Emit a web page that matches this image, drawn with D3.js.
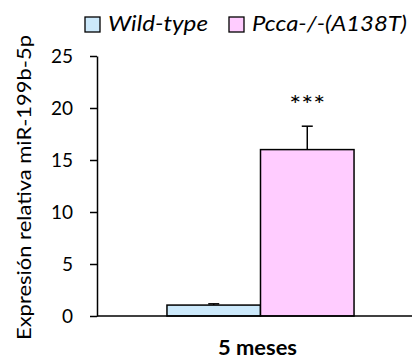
<!DOCTYPE html>
<html>
<head>
<meta charset="utf-8">
<script src="https://cdn.jsdelivr.net/npm/d3@7"></script>
<style>
  body { margin: 0; background: #fff; }
  text { font-family: Lato, "Open Sans", sans-serif; fill: #000; }
</style>
</head>
<body>
<svg id="chart"></svg>
<script>
const categories = ["5 meses"];
const series = ["Wild-type", "Pcca-/-(A138T)"];
const means = [[1.05, 16.0]];
const errors = [[0.12, 2.25]];
const yTicks = [0, 5, 10, 15, 20, 25];
const colors = ["#cce9fb", "#ffccff"];
const signif = ["", "***"];

const width = 412, height = 360;
const svg = d3.select("#chart").attr("width", width).attr("height", height);

const margin = { left: 97, right: 412, top: 56, bottom: 316 };

const y = d3.scaleLinear().domain([0, 25]).range([margin.bottom, margin.top]);
const x0 = d3.scaleBand().domain(categories).range([margin.left, 424]).paddingOuter(0.374);
const x1 = d3.scaleBand().domain(series).range([0, x0.bandwidth()]);

// y axis
const yAxis = svg.append("g")
  .attr("transform", `translate(${margin.left},0)`)
  .call(d3.axisLeft(y).tickValues(yTicks).tickSize(7).tickSizeOuter(0).tickPadding(17));
yAxis.select(".domain").attr("stroke", "#000").attr("stroke-width", 1.5);
yAxis.selectAll(".tick line").attr("stroke", "#000").attr("stroke-width", 1.5);
yAxis.selectAll(".tick text").style("font-size", "19px").style("font-family", "Lato, sans-serif").attr("fill", "#000");

// bars
const groups = svg.append("g").selectAll("g")
  .data(categories)
  .join("g")
  .attr("transform", d => `translate(${x0(d)},0)`);

groups.each(function(cat, ci) {
  const g = d3.select(this);
  series.forEach((s, si) => {
    const v = means[ci][si], e = errors[ci][si];
    const cx = x1(s) + x1.bandwidth() / 2;
    // error bar
    g.append("line")
      .attr("x1", cx).attr("x2", cx)
      .attr("y1", y(v)).attr("y2", y(v + e))
      .attr("stroke", "#000").attr("stroke-width", 1.5);
    g.append("line")
      .attr("x1", cx - 5.5).attr("x2", cx + 5.5)
      .attr("y1", y(v + e)).attr("y2", y(v + e))
      .attr("stroke", "#000").attr("stroke-width", 1.5);
    g.append("rect")
      .attr("x", x1(s))
      .attr("y", y(v))
      .attr("width", x1.bandwidth())
      .attr("height", y(0) - y(v))
      .attr("fill", colors[si])
      .attr("stroke", "#000")
      .attr("stroke-width", 1.5);
    if (signif[si]) {
      g.append("text")
        .attr("x", cx)
        .attr("y", y(v + e) - 12)
        .attr("text-anchor", "middle")
        .style("font-size", "25px")
        .attr("textLength", 36)
        .attr("lengthAdjust", "spacingAndGlyphs")
        .text(signif[si]);
    }
  });
});

// x axis line
svg.append("line")
  .attr("x1", margin.left).attr("x2", margin.right)
  .attr("y1", margin.bottom).attr("y2", margin.bottom)
  .attr("stroke", "#000").attr("stroke-width", 1.5);

// category label
svg.append("text")
  .attr("x", x0(categories[0]) + x0.bandwidth() / 2 - 3)
  .attr("y", 355)
  .attr("text-anchor", "middle")
  .style("font-size", "21px")
  .style("font-weight", "bold")
  .attr("textLength", 79)
  .attr("lengthAdjust", "spacingAndGlyphs")
  .text(categories[0]);

// y label
svg.append("text")
  .attr("transform", `translate(31,187.5) rotate(-90)`)
  .attr("text-anchor", "middle")
  .style("font-size", "19px")
  .attr("textLength", 305)
  .attr("lengthAdjust", "spacingAndGlyphs")
  .text("Expresión relativa miR-199b-5p");

// legend
const legendX = [85, 229];
const legendW = [100, 155];
const leg = svg.append("g");
series.forEach((s, i) => {
  leg.append("rect")
    .attr("x", legendX[i]).attr("y", 17)
    .attr("width", 15).attr("height", 15)
    .attr("fill", colors[i]).attr("stroke", "#000").attr("stroke-width", 1.3);
  leg.append("text")
    .attr("x", legendX[i] + 23).attr("y", 31)
    .style("font-size", "20.5px")
    .style("font-style", "italic")
    .attr("textLength", legendW[i])
    .attr("lengthAdjust", "spacingAndGlyphs")
    .text(s);
});
</script>
</body>
</html>
